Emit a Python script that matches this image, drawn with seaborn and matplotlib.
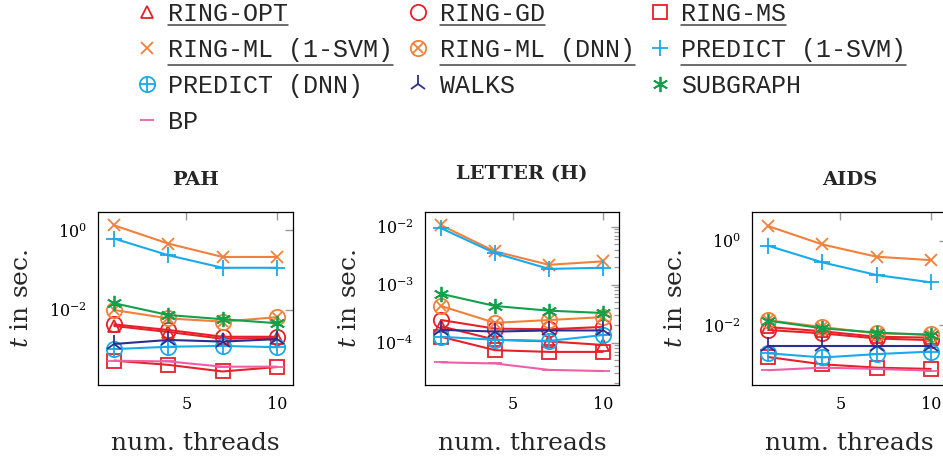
import numpy as np
import pandas as pd
import matplotlib
matplotlib.use("Agg")
import matplotlib.pyplot as plt
import matplotlib.ticker as mticker
from matplotlib.lines import Line2D
import seaborn as sns

# ---------------- data (seconds) ----------------
threads = [1, 4, 7, 10]
methods = ["RING-OPT", "RING-GD", "RING-MS", "RING-ML (1-SVM)", "RING-ML (DNN)",
           "PREDICT (1-SVM)", "PREDICT (DNN)", "WALKS", "SUBGRAPH", "BP"]
datasets = ["PAH", "LETTER (H)", "AIDS"]

pah_ring_opt = [0.00398, 0.00282, 0.00191, 0.00200]
pah_ring_gd = [0.00437, 0.00316, 0.00214, 0.00214]
pah_ring_ms = [0.000537, 0.000422, 0.000288, 0.000372]
pah_ring_ml_svm = [1.33, 0.464, 0.215, 0.215]
pah_ring_ml_dnn = [0.0100, 0.00617, 0.00513, 0.00661]
pah_predict_svm = [0.619, 0.237, 0.115, 0.115]
pah_predict_dnn = [0.00105, 0.00120, 0.00126, 0.00117]
pah_walks = [0.00141, 0.00178, 0.00162, 0.00186]
pah_subgraph = [0.0148, 0.0075, 0.00589, 0.00468]
pah_bp = [0.000537, 0.000513, 0.00038, 0.00038]

letter_ring_opt = [0.000191, 0.000112, 0.000105, 0.0000912]
letter_ring_gd = [0.000245, 0.000174, 0.000170, 0.000186]
letter_ring_ms = [0.000126, 0.0000741, 0.0000692, 0.0000692]
letter_ring_ml_svm = [0.0105, 0.00372, 0.00219, 0.00251]
letter_ring_ml_dnn = [0.000427, 0.000219, 0.000245, 0.000275]
letter_predict_svm = [0.00933, 0.00347, 0.00186, 0.00195]
letter_predict_dnn = [0.000126, 0.000112, 0.000107, 0.000135]
letter_walks = [0.000166, 0.000155, 0.000162, 0.000162]
letter_subgraph = [0.000692, 0.000427, 0.000355, 0.000324]
letter_bp = [0.0000457, 0.0000437, 0.0000339, 0.0000324]

aids_ring_opt = [0.00912, 0.00724, 0.00537, 0.00513]
aids_ring_gd = [0.00776, 0.00646, 0.00490, 0.00447]
aids_ring_ms = [0.00178, 0.00120, 0.00100, 0.000933]
aids_ring_ml_svm = [2.22, 0.818, 0.419, 0.349]
aids_ring_ml_dnn = [0.0132, 0.00912, 0.00646, 0.00617]
aids_predict_svm = [0.762, 0.308, 0.155, 0.104]
aids_predict_dnn = [0.00219, 0.00174, 0.00209, 0.00240]
aids_walks = [0.00331, 0.00331, 0.00331, 0.00331]
aids_subgraph = [0.0129, 0.00851, 0.00676, 0.00589]
aids_bp = [0.000871, 0.00100, 0.000933, 0.000851]

series = {
    "PAH": [pah_ring_opt, pah_ring_gd, pah_ring_ms, pah_ring_ml_svm, pah_ring_ml_dnn,
            pah_predict_svm, pah_predict_dnn, pah_walks, pah_subgraph, pah_bp],
    "LETTER (H)": [letter_ring_opt, letter_ring_gd, letter_ring_ms, letter_ring_ml_svm,
                   letter_ring_ml_dnn, letter_predict_svm, letter_predict_dnn,
                   letter_walks, letter_subgraph, letter_bp],
    "AIDS": [aids_ring_opt, aids_ring_gd, aids_ring_ms, aids_ring_ml_svm, aids_ring_ml_dnn,
             aids_predict_svm, aids_predict_dnn, aids_walks, aids_subgraph, aids_bp],
}
ylims = {"PAH": (10 ** -3.88, 10 ** 0.46),
         "LETTER (H)": (10 ** -4.73, 10 ** -1.75),
         "AIDS": (10 ** -3.41, 10 ** 0.68)}

rows = []
for ds in datasets:
    for m, vals in zip(methods, series[ds]):
        for t, v in zip(threads, vals):
            rows.append({"dataset": ds, "method": m, "threads": t, "time": v})
df = pd.DataFrame(rows)

# ---------------- styles ----------------
RED, ORANGE, BLUE, NAVY, GREEN, PINK = "#E62129", "#F2803A", "#19AAEA", "#2C2F8F", "#13A04B", "#EE5FA7"
styles = {
    "RING-OPT": dict(color=RED, marker="^", ms=9),
    "RING-GD": dict(color=RED, marker="o", ms=11),
    "RING-MS": dict(color=RED, marker="s", ms=10),
    "RING-ML (1-SVM)": dict(color=ORANGE, marker="x", ms=9),
    "RING-ML (DNN)": dict(color=ORANGE, marker="o", ms=11, inner="x", inner_ms=7),
    "PREDICT (1-SVM)": dict(color=BLUE, marker="+", ms=11),
    "PREDICT (DNN)": dict(color=BLUE, marker="o", ms=11, inner="+", inner_ms=11),
    "WALKS": dict(color=NAVY, marker="2", ms=13),
    "SUBGRAPH": dict(color=GREEN, marker=(6, 2, 0), ms=11),
    "BP": dict(color=PINK, marker="_", ms=10),
}

sns.set_theme(style="white")
plt.rcParams["font.family"] = ["DejaVu Serif"]
plt.rcParams["mathtext.fontset"] = "dejavuserif"

W, H = 943, 459
fig = plt.figure(figsize=(W / 100, H / 100), dpi=100)
fig.patch.set_facecolor("white")

axes_px = [(98, 195), (425, 194), (752, 195)]
ax_top, ax_bot = 212, 385
axes = []
for (x0, w) in axes_px:
    axes.append(fig.add_axes([x0 / W, 1 - ax_bot / H, w / W, (ax_bot - ax_top) / H]))

title_base = {"PAH": 27, "LETTER (H)": 33, "AIDS": 27}

for ax, ds in zip(axes, datasets):
    sub = df[df.dataset == ds]
    for m in methods:
        st = styles[m]
        d = sub[sub.method == m]
        sns.lineplot(data=d, x="threads", y="time", ax=ax, color=st["color"], lw=1.5,
                     marker=st["marker"], markersize=st["ms"], markerfacecolor="none",
                     markeredgecolor=st["color"], markeredgewidth=1.3,
                     legend=False, errorbar=None)
        if "inner" in st:
            ax.plot(d["threads"], d["time"], ls="none", marker=st["inner"],
                    ms=st["inner_ms"], mec=st["color"], mew=1.3)
    ax.set_yscale("log")
    ax.set_xlim(0.1, 10.9)
    ax.set_ylim(*ylims[ds])
    ax.xaxis.set_major_locator(mticker.FixedLocator([5, 10]))
    if ds == "LETTER (H)":
        ax.yaxis.set_major_locator(mticker.LogLocator(base=10))
        ax.yaxis.set_minor_locator(mticker.LogLocator(base=10, subs=np.arange(2, 10)))
        ax.yaxis.set_minor_formatter(mticker.NullFormatter())
    else:
        ax.yaxis.set_major_locator(mticker.LogLocator(base=100))
        ax.yaxis.set_minor_locator(mticker.NullLocator())
    ax.yaxis.set_major_formatter(mticker.LogFormatterSciNotation(base=10))
    ax.tick_params(which="both", direction="in", top=True, right=True,
                   color="#9a9a9a", labelcolor="black", labelsize=11.5, pad=8)
    ax.tick_params(which="major", length=6, width=1.0)
    ax.tick_params(which="minor", length=3.5, width=0.9)
    for sp in ax.spines.values():
        sp.set_color("black")
        sp.set_linewidth(0.9)
    ax.set_xlabel("num. threads", fontsize=18)
    ax.set_ylabel("$t$ in sec.", fontsize=18)
    ax.xaxis.set_label_coords(0.5, -58 / 173)
    ax.xaxis.label.set_va("center")
    ax.yaxis.set_label_coords(-76 / 195, 0.5)
    ax.yaxis.label.set_va("center")
    ax.text(0.5, 1 + title_base[ds] / 173, ds, transform=ax.transAxes, ha="center",
            va="baseline", fontsize=14, fontweight="bold")

# ---------------- legend ----------------
def make_handle(m):
    st = styles[m]
    h = Line2D([], [], ls="none", marker=st["marker"], ms=st["ms"], mfc="none",
               mec=st["color"], mew=1.3)
    if "inner" in st:
        h2 = Line2D([], [], ls="none", marker=st["inner"], ms=st["inner_ms"],
                    mec=st["color"], mew=1.3)
        return (h, h2)
    return h

col_order = ["RING-OPT", "RING-ML (1-SVM)", "PREDICT (DNN)", "BP",
             "RING-GD", "RING-ML (DNN)", "WALKS",
             "RING-MS", "PREDICT (1-SVM)", "SUBGRAPH"]
leg = fig.legend([make_handle(m) for m in col_order], col_order, ncol=3,
                 loc="upper left", bbox_to_anchor=(137 / W, 1.0 - 2 / H), frameon=False,
                 prop={"family": "Liberation Mono", "size": 18},
                 handlelength=0.8, handletextpad=0.45, columnspacing=0.6,
                 labelspacing=0.48, borderpad=0.0, borderaxespad=0.0)

underlined = {"RING-OPT": 0, "RING-GD": 0, "RING-MS": 0,
              "RING-ML (1-SVM)": 4, "RING-ML (DNN)": 4, "PREDICT (1-SVM)": 4}
fig.canvas.draw()
renderer = fig.canvas.get_renderer()
for t in leg.get_texts():
    lab = t.get_text()
    if lab in underlined:
        bb = t.get_window_extent(renderer)
        y = bb.y0 + 1 - underlined[lab]
        fig.add_artist(Line2D([bb.x0 / W, bb.x1 / W], [y / H, y / H],
                              transform=fig.transFigure, color="#444444", lw=1.1))

fig.savefig("out.png", dpi=100, facecolor="white")
